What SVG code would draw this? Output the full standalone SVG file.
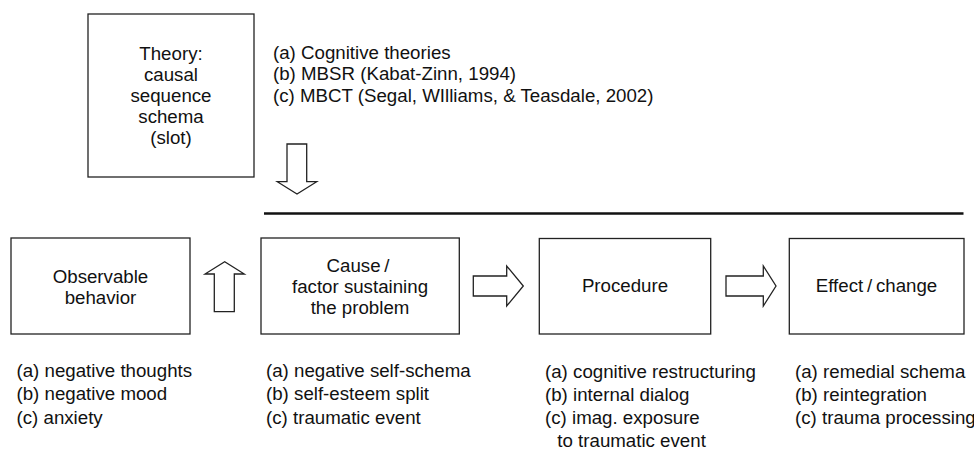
<svg xmlns="http://www.w3.org/2000/svg" width="974" height="452" viewBox="0 0 974 452">
<style>
.box{fill:#fff;stroke:#222;stroke-width:1.3}
.arr{fill:#fff;stroke:#222;stroke-width:1.3;stroke-linejoin:miter}
text{font-family:"Liberation Sans",Arial,sans-serif;font-size:18.7px;fill:#111}
.c{text-anchor:middle}
</style>
<rect width="974" height="452" fill="#fff"/>
<g id="theory">
<rect class="box" x="88" y="14" width="166" height="163"/>
<text class="c" x="171" y="60">Theory:</text>
<text class="c" x="171" y="81">causal</text>
<text class="c" x="171" y="102">sequence</text>
<text class="c" x="171" y="123">schema</text>
<text class="c" x="171" y="144">(slot)</text>
</g>
<g id="theory-list">
<text x="273" y="58.5">(a) Cognitive theories</text>
<text x="273" y="80.2">(b) MBSR (Kabat-Zinn, 1994)</text>
<text x="273" y="101.9">(c) MBCT (Segal, WIlliams, &amp; Teasdale, 2002)</text>
</g>
<g id="observable">
<rect class="box" x="11" y="238" width="179" height="96"/>
<text class="c" x="100.5" y="282.7">Observable</text>
<text class="c" x="100.5" y="304.3">behavior</text>
</g>
<g id="observable-list">
<text x="16.5" y="377">(a) negative thoughts</text>
<text x="16.5" y="400.3">(b) negative mood</text>
<text x="16.5" y="423.6">(c) anxiety</text>
</g>
<g id="cause">
<rect class="box" x="261" y="238" width="198.3" height="96"/>
<text class="c" x="358" y="271.7">Cause&#8201;/</text>
<text class="c" x="360" y="293">factor sustaining</text>
<text class="c" x="360" y="314.4">the problem</text>
</g>
<g id="cause-list">
<text x="266" y="377">(a) negative self-schema</text>
<text x="266" y="400.3">(b) self-esteem split</text>
<text x="266" y="423.6">(c) traumatic event</text>
</g>
<g id="procedure">
<rect class="box" x="539.3" y="238.5" width="171.4" height="95.5"/>
<text class="c" x="625" y="291.7">Procedure</text>
</g>
<g id="procedure-list">
<text x="545" y="378">(a) cognitive restructuring</text>
<text x="545" y="401.3">(b) internal dialog</text>
<text x="545" y="424.3">(c) imag. exposure</text>
<text x="557.3" y="447">to traumatic event</text>
</g>
<g id="effect">
<rect class="box" x="789.3" y="238.5" width="174.7" height="95.5"/>
<text class="c" x="876.5" y="291.7">Effect&#8201;/&#8201;change</text>
</g>
<g id="effect-list">
<text x="795" y="378">(a) remedial schema</text>
<text x="795" y="401.3">(b) reintegration</text>
<text x="795" y="424.3">(c) trauma processing</text>
</g>
<g id="connectors">
<line x1="264" y1="213.5" x2="963.5" y2="213.5" stroke="#111" stroke-width="2.6"/>
<polygon class="arr" points="287,144 306.7,144 306.7,181.7 316.7,181.7 297,194 277.3,181.7 287,181.7"/>
<polygon class="arr" points="214.3,311.7 214.3,274 205,274 224.7,261.7 244.3,274 234.3,274 234.3,311.7"/>
<polygon class="arr" points="473.3,276 506.7,276 506.7,266 523.3,286 506.7,306 506.7,296 473.3,296"/>
<polygon class="arr" points="726,276 763.3,276 763.3,266 776,286 763.3,306 763.3,296 726,296"/>
</g>
</svg>
